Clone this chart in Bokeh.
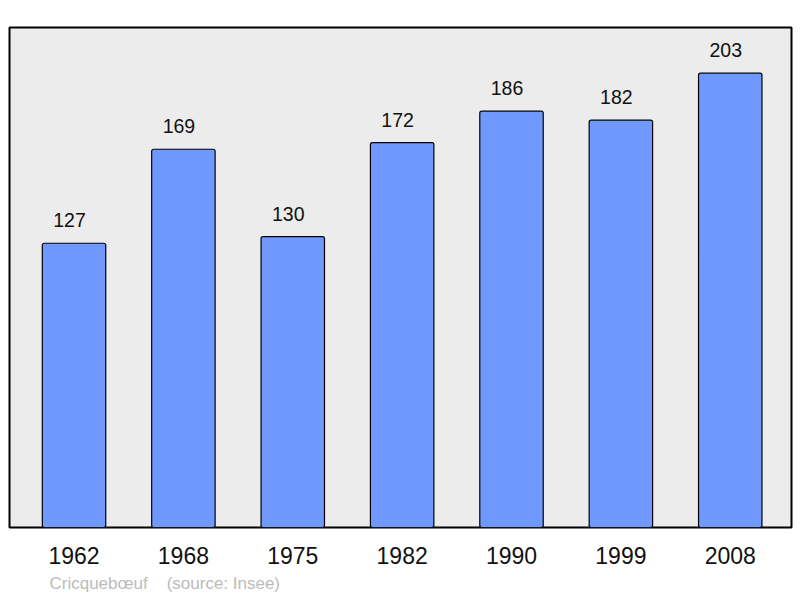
from bokeh.plotting import figure
from bokeh.models import ColumnDataSource, Range1d, FixedTicker, Title
from bokeh.core.properties import value
from bokeh.embed import file_html
from bokeh.resources import INLINE

years = ["1962", "1968", "1975", "1982", "1990", "1999", "2008"]
population = [127, 169, 130, 172, 186, 182, 203]
footer = "Cricquebœuf\u00a0\u00a0\u00a0\u00a0(source: Insee)"

xs = list(range(len(years)))
src = ColumnDataSource(dict(x=xs, top=population, label=[str(v) for v in population]))

p = figure(width=800, height=598, output_backend="svg", toolbar_location=None,
           x_range=Range1d(-0.59, 6.56), y_range=Range1d(0, 223.4),
           min_border_left=9, min_border_right=9, min_border_top=27, min_border_bottom=70)
p.background_fill_color = "#ececec"
p.border_fill_color = "white"
p.outline_line_color = "black"
p.outline_line_width = 2
p.grid.visible = False
p.yaxis.visible = False

p.vbar(x="x", top="top", width=0.58, bottom=0, source=src,
       fill_color="#7099ff", line_color="black", line_width=1.2, border_radius=2)
p.text(x="x", y="top", text="label", source=src, y_offset=-16, x_offset=-4.5,
       text_align="center", text_baseline="bottom",
       text_font=value("Liberation Sans"), text_font_size="19.5px", text_color="#111111")

ax = p.xaxis[0]
ax.ticker = FixedTicker(ticks=xs)
ax.major_label_overrides = {i: y for i, y in zip(xs, years)}
ax.axis_line_color = None
ax.major_tick_line_color = None
ax.minor_tick_line_color = None
ax.major_tick_out = 0
ax.major_tick_in = 0
ax.major_label_standoff = 19
ax.major_label_text_font = "Liberation Sans"
ax.major_label_text_font_size = "23px"
ax.major_label_text_color = "#111111"

t = Title(text=footer, align="left", offset=40, text_font="Liberation Sans",
          text_font_size="17px", text_font_style="normal", text_color="#bbbbbb", standoff=11)
p.add_layout(t, "below")

open("out.html", "w").write(file_html(p, INLINE))
